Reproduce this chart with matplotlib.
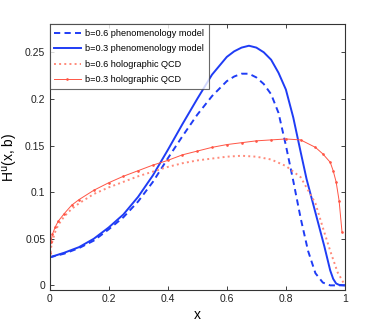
import matplotlib
matplotlib.use("Agg")
import matplotlib.pyplot as plt

plt.rcParams['font.family'] = ['Liberation Sans', 'DejaVu Sans']

# b=0.3 phenomenology model (solid blue)
x_ph3 = [0, 0.05, 0.1, 0.15, 0.2, 0.25, 0.3, 0.35, 0.4, 0.45, 0.5, 0.55, 0.6, 0.625, 0.65,
         0.675, 0.7, 0.725, 0.75, 0.775, 0.8, 0.825, 0.85, 0.87, 0.9, 0.93, 0.95, 0.96, 0.97,
         0.98, 1.0]
y_ph3 = [0.030, 0.035, 0.041, 0.050, 0.062, 0.076, 0.095, 0.118, 0.145, 0.173, 0.200, 0.226,
         0.245, 0.251, 0.255, 0.257, 0.255, 0.250, 0.242, 0.228, 0.210, 0.180, 0.143, 0.114,
         0.078, 0.042, 0.016, 0.007, 0.002, 0.0005, 0.0]

# b=0.6 phenomenology model (dashed blue)
x_ph6 = [0, 0.05, 0.1, 0.15, 0.2, 0.25, 0.3, 0.35, 0.4, 0.45, 0.5, 0.55, 0.6, 0.625, 0.65,
         0.675, 0.7, 0.725, 0.75, 0.775, 0.8, 0.825, 0.85, 0.875, 0.9, 0.925, 0.95, 1.0]
y_ph6 = [0.030, 0.034, 0.040, 0.048, 0.060, 0.073, 0.090, 0.111, 0.136, 0.160, 0.183, 0.203,
         0.219, 0.224, 0.227, 0.227, 0.223, 0.216, 0.205, 0.185, 0.150, 0.112, 0.072, 0.037,
         0.013, 0.003, 0.0, 0.0]

# b=0.6 holographic QCD (dotted red)
x_h6 = [0, 0.005, 0.01, 0.02, 0.03, 0.05, 0.075, 0.1, 0.15, 0.2, 0.25, 0.3, 0.35, 0.4, 0.45,
        0.5, 0.55, 0.6, 0.65, 0.7, 0.75, 0.8, 0.85, 0.9, 0.925, 0.95, 0.975, 1.0]
y_h6 = [0.024, 0.040, 0.048, 0.058, 0.065, 0.074, 0.082, 0.088, 0.098, 0.105, 0.111, 0.117,
        0.122, 0.127, 0.131, 0.134, 0.136, 0.138, 0.139, 0.138, 0.135, 0.128, 0.116, 0.088,
        0.062, 0.037, 0.014, 0.0]

# b=0.3 holographic QCD (solid red with dots)
x_h3 = [0, 0.005, 0.01, 0.02, 0.03, 0.05, 0.075, 0.1, 0.15, 0.2, 0.25, 0.3, 0.35, 0.4, 0.45,
        0.5, 0.55, 0.6, 0.65, 0.7, 0.75, 0.8, 0.85, 0.9, 0.925, 0.95, 0.96, 0.97, 0.98, 0.99]
y_h3 = [0.035, 0.047, 0.055, 0.063, 0.069, 0.077, 0.086, 0.092, 0.102, 0.110, 0.117, 0.123,
        0.129, 0.134, 0.140, 0.144, 0.148, 0.151, 0.153, 0.155, 0.156, 0.157, 0.156, 0.148,
        0.141, 0.132, 0.123, 0.111, 0.091, 0.057]

x_ticks = [0, 0.2, 0.4, 0.6, 0.8, 1]
x_ticklabels = ['0', '0.2', '0.4', '0.6', '0.8', '1']
y_ticks = [0, 0.05, 0.1, 0.15, 0.2, 0.25]
y_ticklabels = ['0', '0.05', '0.1', '0.15', '0.2', '0.25']

blue = '#1f3cf5'
red = '#ff5545'
salmon = '#ff8a7a'

fig = plt.figure(figsize=(3.82, 3.27), dpi=100)
ax = fig.add_axes([0.1296, 0.1131, 0.7735, 0.8126])

ax.plot(x_ph6, y_ph6, '--', color=blue, lw=1.4, dashes=(3.2, 2.2), label='b=0.6 phenomenology model')
ax.plot(x_ph3, y_ph3, '-', color=blue, lw=1.4, label='b=0.3 phenomenology model')
ax.plot(x_h6, y_h6, ':', color=salmon, lw=1.4, label='b=0.6 holographic QCD')
ax.plot(x_h3, y_h3, '-', color=red, lw=0.7, marker='.', markersize=1.8, label='b=0.3 holographic QCD')

ax.set_xlim(0, 1)
ax.set_ylim(-0.005, 0.28)
ax.set_xticks(x_ticks)
ax.set_xticklabels(x_ticklabels)
ax.set_yticks(y_ticks)
ax.set_yticklabels(y_ticklabels)
ax.tick_params(direction='in', top=True, right=True, length=3, width=0.6,
               labelsize=7.5, colors='#222222', pad=3)
for s in ax.spines.values():
    s.set_linewidth(0.8)
    s.set_color('#333333')

ax.set_xlabel('x', fontsize=10, labelpad=3)
ax.set_ylabel(r'H$^{\rm u}$(x, b)', fontsize=10, labelpad=4)

leg = ax.legend(loc='upper left', fontsize=6.6, frameon=True, fancybox=False,
                borderaxespad=0, handlelength=2.9, handletextpad=0.5,
                labelspacing=0.7, borderpad=0.5)
leg.get_frame().set_edgecolor('#444444')
leg.get_frame().set_linewidth(0.8)

fig.savefig('out.png', dpi=100)
